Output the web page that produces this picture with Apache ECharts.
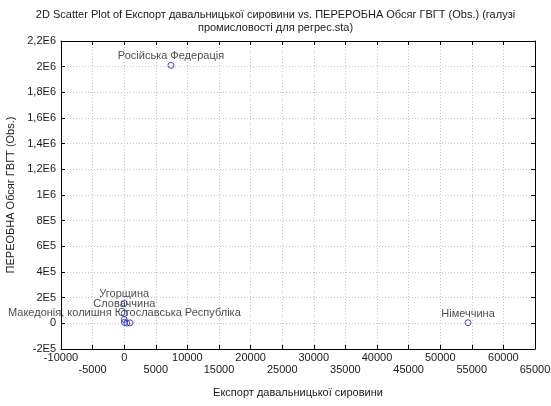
<!DOCTYPE html>
<html>
<head>
<meta charset="utf-8">
<script src="https://cdn.jsdelivr.net/npm/echarts@6/dist/echarts.min.js"></script>
<style>
  html, body { margin: 0; padding: 0; background: #fff; }
  #chart { width: 551px; height: 406px; }
</style>
</head>
<body>
<div id="chart"></div>
<script>
// Країни (підписи точок) та їхні значення
const countries = ['Російська Федерація', 'Німеччина', 'Угорщина', 'Словаччина',
  'Македонія, колишня Югославська Республіка', '', '', ''];
const exportValues = [7400, 54400, 0, 20, 30, 10, 400, 900];
const processingValues = [2010000, 5000, 155000, 78000, 8000, 30000, 2000, 4000];

// Підписи осей
const xTicks = [-10000, -5000, 0, 5000, 10000, 15000, 20000, 25000, 30000, 35000,
  40000, 45000, 50000, 55000, 60000, 65000];
const yTicks = [-200000, 0, 200000, 400000, 600000, 800000, 1000000, 1200000,
  1400000, 1600000, 1800000, 2000000, 2200000];
const yTickLabels = ['-2E5', '0', '2E5', '4E5', '6E5', '8E5', '1E6', '1,2E6',
  '1,4E6', '1,6E6', '1,8E6', '2E6', '2,2E6'];

const FONT = 'Liberation Sans, Arial, sans-serif';
const TXT = '#1a1a1a';

const points = exportValues.map((x, i) => ({
  value: [x, processingValues[i]],
  name: countries[i]
}));

const chart = echarts.init(document.getElementById('chart'), null, { renderer: 'canvas' });

const gridLine = { show: true, lineStyle: { color: '#c4c4c4', type: [1, 2], width: 1 } };
const axisLine = { show: true, onZero: false, lineStyle: { color: '#000', width: 1 } };
const ticksIn = { show: true, inside: true, length: 4, lineStyle: { color: '#000' } };

chart.setOption({
  animation: false,
  backgroundColor: '#fff',
  title: {
    text: '2D Scatter Plot of Експорт давальницької сировини vs. ПЕРЕРОБНА Обсяг ГВГТ (Obs.) (галузі\nпромисловості для регрес.sta)',
    left: 'center',
    top: 3,
    textStyle: { fontFamily: FONT, fontSize: 11, fontWeight: 'normal', color: TXT, lineHeight: 13, align: 'center' }
  },
  grid: { left: 61, right: 16, top: 41, bottom: 57, outerBoundsMode: 'none', containLabel: false },
  xAxis: [{
    type: 'value',
    min: xTicks[0],
    max: xTicks[xTicks.length - 1],
    interval: 5000,
    name: 'Експорт давальницької сировини',
    nameLocation: 'middle',
    nameGap: 38,
    nameTextStyle: { fontFamily: FONT, fontSize: 11, color: TXT },
    axisLine: axisLine,
    axisTick: ticksIn,
    splitLine: gridLine,
    axisLabel: {
      fontFamily: FONT, fontSize: 11, color: TXT, margin: 3, lineHeight: 12,
      showMinLabel: true, showMaxLabel: true,
      formatter: v => (xTicks.indexOf(v) % 2 === 0 ? String(v) : '\n' + v)
    }
  }, {
    type: 'value',
    position: 'top',
    min: xTicks[0],
    max: xTicks[xTicks.length - 1],
    interval: 5000,
    axisLine: axisLine,
    axisTick: ticksIn,
    axisLabel: { show: false },
    splitLine: { show: false }
  }],
  yAxis: [{
    type: 'value',
    min: yTicks[0],
    max: yTicks[yTicks.length - 1],
    interval: 200000,
    name: 'ПЕРЕОБНА Обсяг ГВГТ (Obs.)',
    nameLocation: 'middle',
    nameGap: 45,
    nameTextStyle: { fontFamily: FONT, fontSize: 11, color: TXT },
    axisLine: axisLine,
    axisTick: ticksIn,
    splitLine: gridLine,
    axisLabel: {
      fontFamily: FONT, fontSize: 11, color: TXT, margin: 5,
      formatter: v => {
        const i = yTicks.indexOf(v);
        return i >= 0 ? yTickLabels[i] : '';
      }
    }
  }, {
    type: 'value',
    position: 'right',
    min: yTicks[0],
    max: yTicks[yTicks.length - 1],
    interval: 200000,
    axisLine: axisLine,
    axisTick: ticksIn,
    axisLabel: { show: false },
    splitLine: { show: false }
  }],
  series: [{
    type: 'scatter',
    xAxisIndex: 0,
    yAxisIndex: 0,
    data: points,
    symbol: 'circle',
    symbolSize: 6,
    itemStyle: { color: 'transparent', borderColor: '#1e1ec0', borderWidth: 1 },
    label: {
      show: true,
      position: 'top',
      distance: 0,
      fontFamily: FONT,
      fontSize: 11,
      color: TXT,
      formatter: p => p.name
    },
    labelLayout: { hideOverlap: false }
  }]
});
</script>
</body>
</html>
